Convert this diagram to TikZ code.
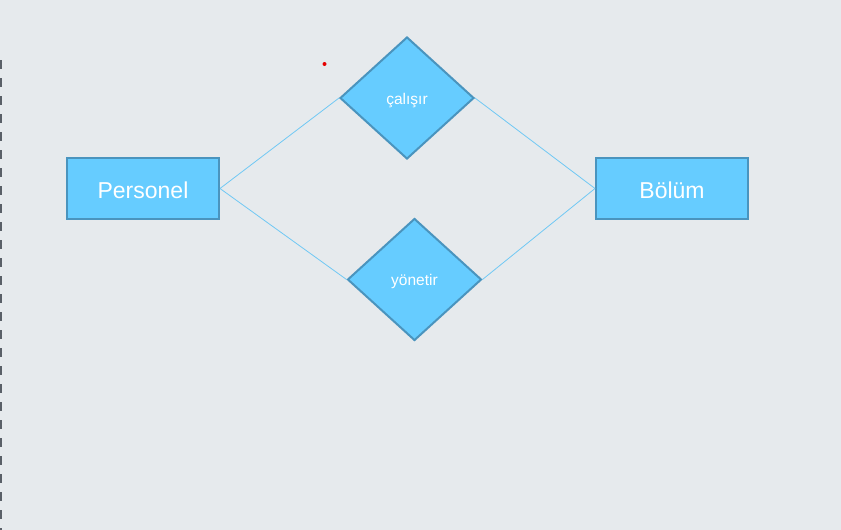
\documentclass[tikz,border=0pt]{standalone}
\usepackage{fontspec}
\setmainfont{Liberation Sans}
\usetikzlibrary{shapes.geometric}
\definecolor{bgc}{HTML}{E6EAED}
\definecolor{boxfill}{HTML}{66CCFF}
\definecolor{boxline}{HTML}{4A94BE}
\definecolor{linkc}{HTML}{70C8F4}
\definecolor{dashc}{HTML}{5A6068}
\tikzset{
  entity/.style={rectangle, draw=boxline, fill=boxfill, line width=2pt,
    minimum width=152pt, minimum height=61pt, inner sep=0pt,
    text height=19.5pt, text depth=0pt,
    text=white, font=\fontsize{23}{26}\selectfont},
  relation/.style={diamond, draw=boxline, fill=boxfill, line width=2pt,
    minimum width=134pt, minimum height=122pt, inner sep=0pt,
    text height=13pt, text depth=1pt,
    text=white, font=\fontsize{15.5}{18}\selectfont},
  link/.style={draw=linkc, line width=0.8pt}
}
\begin{document}
\begin{tikzpicture}[x=1pt,y=-1pt]
\useasboundingbox (0,0) rectangle (841,530);
\fill[bgc] (0,0) rectangle (841,530);
\draw[dashc, line width=2pt, dash pattern=on 9pt off 9pt] (0.5,60) -- (0.5,530);
\fill[red!90!black] (324.5,64) circle (2pt);
\node[entity] (pers) at (143,188.5) {Personel};
\node[entity] (bol) at (672,188.5) {Bölüm};
\node[relation] (cal) at (407,98) {çalışır};
\node[relation] (yon) at (414.5,279.5) {yönetir};
\path[link] (pers.east) -- (cal.west);
\path[link] (pers.east) -- (yon.west);
\path[link] (cal.east) -- (bol.west);
\path[link] (yon.east) -- (bol.west);
\end{tikzpicture}
\end{document}
